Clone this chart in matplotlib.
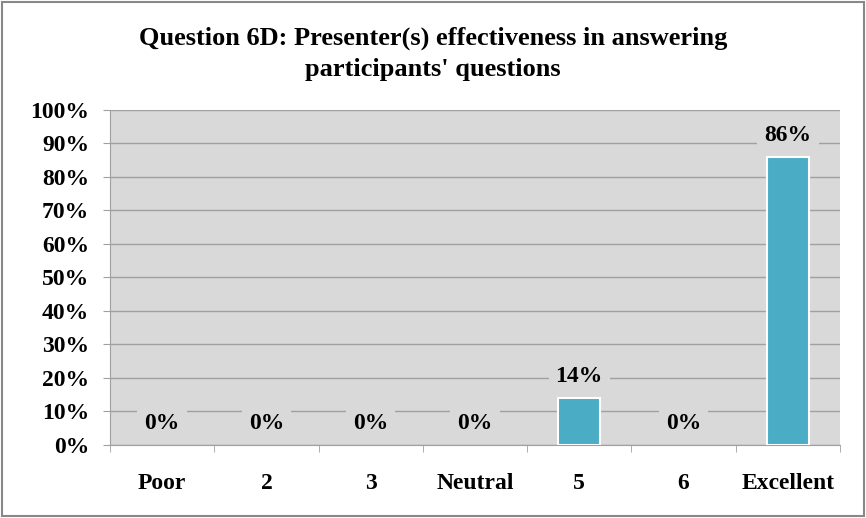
import matplotlib.pyplot as plt
from matplotlib.ticker import MultipleLocator, FuncFormatter

categories = ['Poor', '2', '3', 'Neutral', '5', '6', 'Excellent']
values = [0, 0, 0, 0, 14, 0, 86]

bg = '#d9d9d9'
bar_color = '#4bacc6'
grid_color = '#a0a0a0'

plt.rcParams['font.family'] = ['Liberation Serif', 'DejaVu Serif']
plt.rcParams['font.weight'] = 'bold'

fig = plt.figure(figsize=(8.66, 5.18), dpi=100)
ax = fig.add_axes([0.127, 0.141, 0.843, 0.647])
ax.set_facecolor(bg)

x = list(range(len(categories)))
edges = ['white' if v > 0 else 'none' for v in values]
ax.bar(x, values, width=0.4, color=bar_color, edgecolor=edges, linewidth=1.5, zorder=3)

for xi, v in zip(x, values):
    ax.annotate(f'{v}%', (xi, v), xytext=(0, 8), textcoords='offset points',
                ha='center', va='bottom', fontsize=17, fontweight='bold', zorder=4,
                bbox=dict(boxstyle='square,pad=0.3', fc=bg, ec='none'))

ax.set_xlim(-0.5, len(categories) - 0.5)
ax.set_ylim(0, 100)
ax.yaxis.set_major_locator(MultipleLocator(10))
ax.yaxis.set_major_formatter(FuncFormatter(lambda v, p: f'{v:.0f}%'))
ax.grid(axis='y', color=grid_color, linewidth=1, zorder=0)

ax.set_xticks(x)
ax.set_xticklabels(categories)
ax.set_xticks([i + 0.5 for i in range(-1, len(categories))], minor=True)
ax.tick_params(axis='x', which='major', length=0, pad=20, labelsize=17)
ax.tick_params(axis='x', which='minor', length=5, color=grid_color)
ax.tick_params(axis='y', length=5, color=grid_color, labelsize=17, pad=10)

for s in ['top', 'right']:
    ax.spines[s].set_visible(False)
ax.spines['left'].set_color(grid_color)
ax.spines['bottom'].set_color(grid_color)

fig.text(0.5, 0.896, "Question 6D: Presenter(s) effectiveness in answering\nparticipants' questions",
         ha='center', va='center', fontsize=19, fontweight='bold', linespacing=1.4)

border = plt.Rectangle((0.002, 0.003), 0.996, 0.994, transform=fig.transFigure,
                       fill=False, edgecolor='#888888', linewidth=1.5)
fig.patches.append(border)

fig.savefig('out.png', dpi=100)
